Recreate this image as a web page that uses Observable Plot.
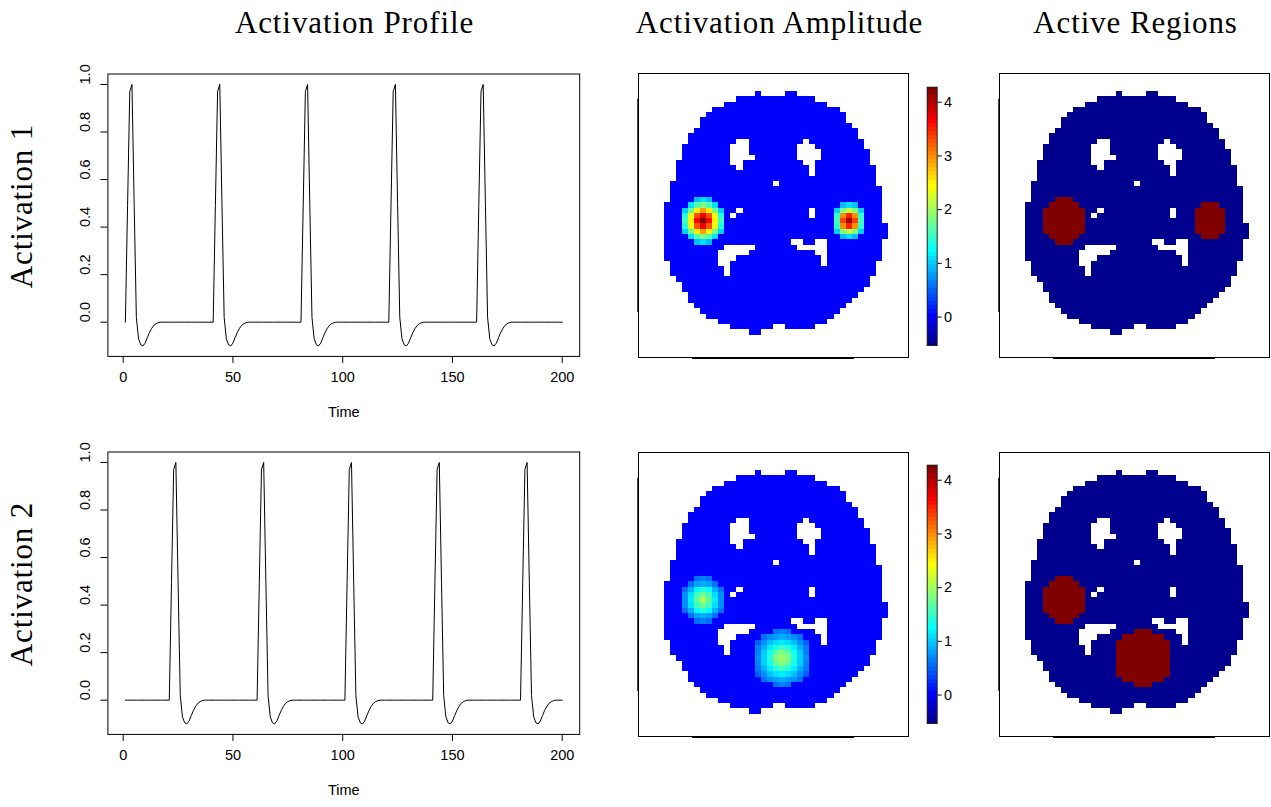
<!DOCTYPE html>
<html><head><meta charset="utf-8">
<script src="https://cdn.jsdelivr.net/npm/d3@7"></script>
<script src="https://cdn.jsdelivr.net/npm/@observablehq/plot@0.6"></script>
<style>
body{margin:0;background:#fff;}
#root{position:relative;width:1271px;height:807px;overflow:hidden;background:#fff;}
.ttl{position:absolute;font-family:"Liberation Serif",serif;font-size:31px;letter-spacing:0.9px;white-space:nowrap;line-height:31px;transform:translateX(-50%);color:#000;}
.rl{position:absolute;font-family:"Liberation Serif",serif;font-size:31px;letter-spacing:0.85px;white-space:nowrap;line-height:31px;transform:translate(-50%,-50%) rotate(-90deg);color:#000;}
.pane{position:absolute;}
.pane svg{display:block;overflow:visible;}
</style></head><body><div id="root"></div>
<script>
// ---------- text ----------
const titles = ["Activation Profile", "Activation Amplitude", "Active Regions"];
const rowLabels = ["Activation 1", "Activation 2"];
const timeLabel = "Time";
const timeTicks = [0, 50, 100, 150, 200];
const profileTicks = [0.0, 0.2, 0.4, 0.6, 0.8, 1.0];
const colorTicks = [0, 1, 2, 3, 4];
const colorRange = [-0.53, 4.28];

// ---------- activation profiles ----------
const nTime = 200;
const pulseShape = [0, 0.49, 0.97, 1.0, 0.5, 0.02, -0.07, -0.095, -0.1, -0.088, -0.065, -0.043, -0.026, -0.013, -0.006, -0.002, 0];
const onsets1 = [1, 41, 81, 121, 161];
const onsets2 = [21, 61, 101, 141, 181];

// ---------- brain mask (row, first column, last column) ----------
const maskSpans = [
 [0,19,19],[0,24,25],[1,16,28],[2,14,30],[3,12,32],[4,11,33],[5,10,33],[6,10,34],[7,9,35],[8,8,35],
 [9,8,36],[10,7,36],[11,7,37],[12,7,37],[13,6,37],[14,6,38],[15,6,38],[16,6,38],[17,5,38],[18,5,39],
 [19,5,39],[20,5,39],[21,4,39],[22,4,39],[23,4,39],[24,4,39],[25,4,40],[26,4,40],[27,4,40],[28,4,39],
 [29,4,39],[30,4,39],[31,4,39],[32,5,38],[33,5,38],[34,5,38],[35,6,37],[36,7,37],[37,7,36],[38,8,35],
 [39,8,34],[40,9,33],[41,10,32],[42,11,31],[43,13,30],[44,15,21],[44,24,28],[45,18,19]
];
const maskHoles = [
 [9,16,17],[9,27,27],[10,15,17],[10,26,28],[11,15,17],[11,26,29],[12,15,18],[12,26,29],
 [13,15,16],[13,27,28],[14,16,16],[14,28,28],[15,28,28],[17,22,22],[22,16,16],[22,28,28],
 [23,15,15],[23,28,28],[28,25,26],[28,29,30],[29,14,18],[29,26,30],[30,13,17],[30,29,30],
 [31,13,15],[31,30,30],[32,13,14],[32,30,30],[33,14,14],[34,14,14]
];

// ---------- activation amplitude blobs ----------
const blob1Left = [
 [null,null,0.95,1.05,0.95,null,null],
 [null,1.1,1.6,1.85,1.6,1.1,null],
 [1.0,1.75,2.5,2.9,2.5,1.75,1.0],
 [1.4,2.4,3.3,3.7,3.3,2.4,1.4],
 [1.5,2.5,3.65,4.25,3.65,2.5,1.5],
 [1.4,2.4,3.3,3.7,3.3,2.4,1.4],
 [1.0,1.75,2.5,2.9,2.5,1.75,1.0],
 [null,1.1,1.6,1.85,1.6,1.1,null],
 [null,null,0.95,1.05,0.95,null,null]
];
const blob1Right = [
 [null,0.95,1.1,0.95,null],
 [1.0,1.8,2.15,1.8,1.0],
 [1.45,2.95,3.5,2.95,1.45],
 [1.5,3.35,4.1,3.35,1.5],
 [1.45,2.95,3.5,2.95,1.45],
 [1.0,1.8,2.15,1.8,1.0],
 [null,0.95,1.1,0.95,null]
];
const blob2Left = [
 [null,null,0.55,0.6,0.55,null,null],
 [null,0.58,0.8,0.88,0.8,0.58,null],
 [0.55,0.88,1.2,1.38,1.2,0.88,0.55],
 [0.7,1.1,1.55,1.75,1.55,1.1,0.7],
 [0.72,1.15,1.65,2.05,1.65,1.15,0.72],
 [0.7,1.1,1.55,1.75,1.55,1.1,0.7],
 [0.55,0.88,1.2,1.38,1.2,0.88,0.55],
 [null,0.58,0.8,0.88,0.8,0.58,null],
 [null,null,0.55,0.6,0.55,null,null]
];
const blob2Bottom = [
 [null,null,null,0.57,0.6,0.57,null,null,null],
 [null,0.53,0.7,0.82,0.86,0.82,0.7,0.53,null],
 [0.49,0.71,0.93,1.1,1.17,1.1,0.93,0.71,0.49],
 [0.6,0.87,1.16,1.4,1.5,1.4,1.16,0.87,0.6],
 [0.67,0.99,1.33,1.65,1.85,1.65,1.33,0.99,0.67],
 [0.7,1.04,1.4,1.8,2.0,1.8,1.4,1.04,0.7],
 [0.67,0.99,1.33,1.65,1.85,1.65,1.33,0.99,0.67],
 [0.6,0.87,1.16,1.4,1.5,1.4,1.16,0.87,0.6],
 [0.49,0.71,0.93,1.1,1.17,1.1,0.93,0.71,0.49],
 [null,0.53,0.7,0.82,0.86,0.82,0.7,0.53,null],
 [null,null,null,0.57,0.6,0.57,null,null,null]
];
const blobs1 = [[20, 7, blob1Left], [21, 32, blob1Right]];
const blobs2 = [[20, 7, blob2Left], [30, 19, blob2Bottom]];

// ---------- palette (tim.colors 64) ----------
const timColors = ["#00008F","#00009F","#0000AF","#0000BF","#0000CF","#0000DF","#0000EF","#0000FF","#0010FF","#0020FF","#0030FF","#0040FF","#0050FF","#0060FF","#0070FF","#0080FF","#008FFF","#009FFF","#00AFFF","#00BFFF","#00CFFF","#00DFFF","#00EFFF","#00FFFF","#10FFEF","#20FFDF","#30FFCF","#40FFBF","#50FFAF","#60FF9F","#70FF8F","#80FF80","#8FFF70","#9FFF60","#AFFF50","#BFFF40","#CFFF30","#DFFF20","#EFFF10","#FFFF00","#FFEF00","#FFDF00","#FFCF00","#FFBF00","#FFAF00","#FF9F00","#FF8F00","#FF8000","#FF7000","#FF6000","#FF5000","#FF4000","#FF3000","#FF2000","#FF1000","#FF0000","#EF0000","#DF0000","#CF0000","#BF0000","#AF0000","#9F0000","#8F0000","#800000"];
const activeColors = ["#00008F", "#800000"];

// ---------- build tables ----------
function buildSeries(onsets) {
  const v = new Array(nTime).fill(0);
  for (const o of onsets) pulseShape.forEach((p, i) => { if (o + i <= nTime) v[o + i - 1] = p; });
  return v.map((y, i) => ({t: i + 1, y}));
}
const maskSet = new Set();
for (const [k, a, b] of maskSpans) for (let c = a; c <= b; c++) maskSet.add(k + "," + c);
for (const [k, a, b] of maskHoles) for (let c = a; c <= b; c++) maskSet.delete(k + "," + c);
function buildCells(blobs) {
  const amp = new Map();
  for (const [r0, c0, vals] of blobs)
    vals.forEach((row, i) => row.forEach((v, j) => { if (v != null) amp.set((r0 + i) + "," + (c0 + j), v); }));
  return [...maskSet].map(key => {
    const [k, c] = key.split(",").map(Number);
    const v = amp.has(key) ? amp.get(key) : 0;
    return {k, c, v, state: amp.has(key) ? "active" : "inactive"};
  });
}

const ampColor = {
  type: "linear", domain: colorRange,
  interpolate: t => timColors[Math.max(0, Math.min(63, Math.floor(t * 64)))]
};

const root = document.getElementById("root");
function place(node, left, top) {
  const d = document.createElement("div");
  d.className = "pane"; d.style.left = left + "px"; d.style.top = top + "px";
  d.appendChild(node); root.appendChild(d);
}
const FS = 14.5;
const sansStyle = {background: "transparent", fontFamily: "'Liberation Sans', Arial, sans-serif", fontSize: FS + "px", color: "black", overflow: "visible"};

function linePlot(series) {
  return Plot.plot({
    width: 540, height: 380,
    marginLeft: 47.4, marginRight: 20.8, marginTop: 13.5, marginBottom: 84.1,
    x: {domain: [-6.96, 207.96], axis: null},
    y: {domain: [-0.144, 1.044], axis: null},
    style: sansStyle,
    marks: [
      Plot.frame({stroke: "black", strokeWidth: 1}),
      Plot.axisX({ticks: timeTicks, tickSize: 7, tickFormat: () => "", label: null}),
      Plot.text(timeTicks, {x: d => d, frameAnchor: "bottom", dy: 26, text: d => String(d), fontSize: FS}),
      Plot.text([timeLabel], {frameAnchor: "bottom", dy: 61, text: d => d, fontSize: FS}),
      Plot.axisY({ticks: profileTicks, tickSize: 7, tickFormat: () => "", label: null}),
      Plot.text(profileTicks, {y: d => d, frameAnchor: "left", dx: -23, rotate: -90, text: d => d.toFixed(1), fontSize: FS}),
      Plot.line(series, {x: "t", y: "y", stroke: "black", strokeWidth: 1})
    ]
  });
}

function brainPlot(cells, fillKey, color) {
  return Plot.plot({
    width: 272, height: 286, marginLeft: 1, marginRight: 1, marginTop: 1, marginBottom: 1,
    x: {domain: [-0.231, 44.27], axis: null},
    y: {domain: [-3.396, 50.19], axis: null, reverse: true},
    color,
    style: sansStyle,
    marks: [
      Plot.rect(cells, {x1: "c", x2: d => d.c + 1, y1: "k", y2: d => d.k + 1, fill: fillKey, shapeRendering: "crispEdges"}),
      Plot.frame({stroke: "black", strokeWidth: 1}),
      Plot.ruleY([50.19], {x1: 8.67, x2: 35.37, stroke: "black", strokeWidth: 1, dy: 1}),
      Plot.ruleX([-0.231], {y1: 1.45, y2: 41.7, stroke: "#444", strokeWidth: 1, dx: -1})
    ]
  });
}

function colorBar() {
  const [lo, hi] = colorRange;
  const bins = d3.range(64).map(i => ({y1: lo + i * (hi - lo) / 64, y2: lo + (i + 1) * (hi - lo) / 64}));
  return Plot.plot({
    width: 50, height: 280, marginLeft: 6.7, marginRight: 33.3, marginTop: 6.7, marginBottom: 15,
    x: {domain: [0, 1], axis: null},
    y: {domain: colorRange, axis: null},
    color: ampColor,
    style: sansStyle,
    marks: [
      Plot.rect(bins, {x1: d => 0, x2: d => 1, y1: "y1", y2: "y2", fill: d => (d.y1 + d.y2) / 2, shapeRendering: "crispEdges"}),
      Plot.frame({stroke: "#222", strokeWidth: 1}),
      Plot.axisY({anchor: "right", ticks: colorTicks, tickSize: 4, tickFormat: () => "", label: null}),
      Plot.text(colorTicks, {y: d => d, frameAnchor: "right", dx: 15, text: d => String(d), fontSize: FS})
    ]
  });
}

// titles
const titleX = [354.5, 779.5, 1135.5];
titles.forEach((t, i) => {
  const d = document.createElement("div");
  d.className = "ttl"; d.textContent = t; d.style.left = titleX[i] + "px"; d.style.top = "7px";
  root.appendChild(d);
});
const rowY = [206, 584];
rowLabels.forEach((t, i) => {
  const d = document.createElement("div");
  d.className = "rl"; d.textContent = t; d.style.left = "21px"; d.style.top = rowY[i] + "px";
  root.appendChild(d);
});

const series = [buildSeries(onsets1), buildSeries(onsets2)];
const cellSets = [buildCells(blobs1), buildCells(blobs2)];
const activeColor = {type: "ordinal", domain: ["inactive", "active"], range: activeColors};
const rowOffsets = [0, 378];
[0, 1].forEach(r => {
  const off = rowOffsets[r];
  place(linePlot(series[r]), 60, 60 + off);
  place(brainPlot(cellSets[r], "v", ampColor), 637, 72 + off + (r ? 1 : 0));
  place(colorBar(), 920, 80 + off);
  place(brainPlot(cellSets[r], "state", activeColor), 998, 72 + off + (r ? 1 : 0));
});
</script></body></html>
